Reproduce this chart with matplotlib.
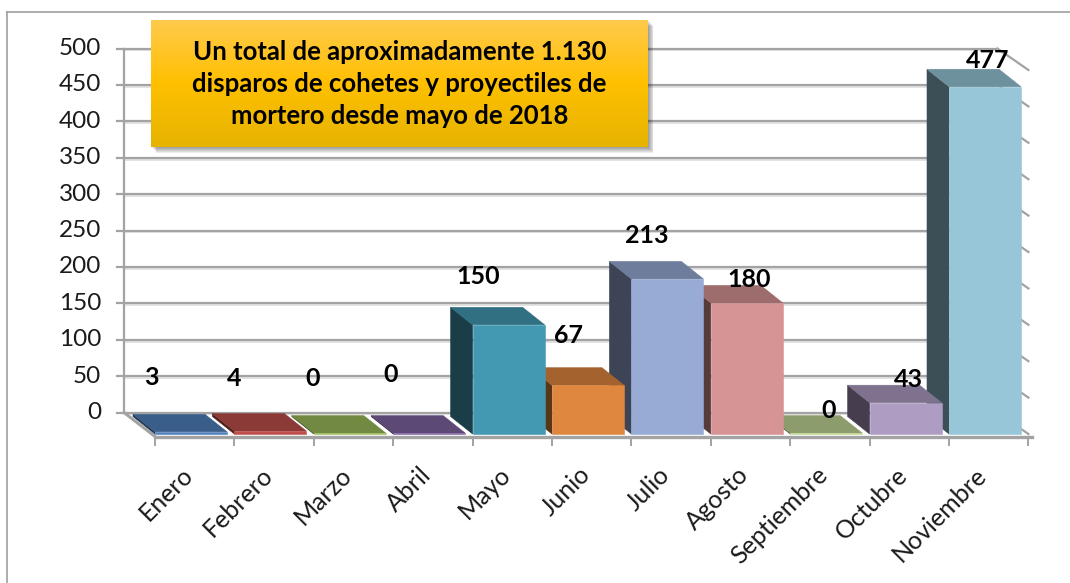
import numpy as np
import matplotlib
matplotlib.use('Agg')
import matplotlib.pyplot as plt
from matplotlib.patches import Polygon, Rectangle
from matplotlib.lines import Line2D
import matplotlib.colors as mcolors

# ---------------- data ----------------
months = ['Enero', 'Febrero', 'Marzo', 'Abril', 'Mayo', 'Junio', 'Julio',
          'Agosto', 'Septiembre', 'Octubre', 'Noviembre']
values = [3, 4, 0, 0, 150, 67, 213, 180, 0, 43, 477]
y_ticks = list(range(0, 501, 50))
title_lines = ['Un total de aproximadamente 1.130',
               'disparos de cohetes y proyectiles de',
               'mortero desde mayo de 2018']

# ---------------- style ----------------
front_colors = ['#4F81BD', '#C0504D', '#9BBB59', '#8064A2', '#4399B2', '#E0873F',
                '#97ABD5', '#D79494', '#C0D694', '#AE9CC3', '#97C6D8']
# label offsets in pixels (dx, up) from bar's front-top centre
label_offsets = [(-40, 54), (-36, 53), (-37, 56), (-39, 60), (-30, 48), (-20, 50),
                 (-21, 43), (2, 23), (2, 23), (3, 23), (3, 26)]

plt.rcParams['font.family'] = ['Lato', 'DejaVu Sans']

W, H = 1070, 583
fig = plt.figure(figsize=(W / 100, H / 100), dpi=100)
fig.patch.set_facecolor('white')
ax = fig.add_axes([0, 0, 1, 1])
ax.set_zorder(0)

PXC = 79.4    # pixels per category (front plane)
PXV = 0.728   # pixels per value unit
X0, Y0 = 155, 434
ax.set_xlim(-X0 / PXC, (W - X0) / PXC)
ax.set_ylim((Y0 - H) / PXV, Y0 / PXV)
ax.axis('off')

n = len(months)
wdx, wdv = -31 / PXC, 21.5 / PXV     # wall depth offset
bdx, bdv = -22 / PXC, 17.5 / PXV     # bar depth offset
bw = 72 / PXC                        # bar front width

grid_c = '#a3a3a3'
shadow_c = '#dedede'
glw = 1.6

# back wall gridlines + right side wall lines
for t in y_ticks:
    yb = t + wdv
    ax.plot([wdx, n + wdx], [yb - 1.8 / PXV] * 2, color=shadow_c, lw=1.2, zorder=1,
            solid_capstyle='butt')
    ax.plot([wdx, n + wdx], [yb, yb], color=grid_c, lw=glw, zorder=2,
            solid_capstyle='butt')
    ax.plot([n + wdx, n], [yb, t], color=grid_c, lw=glw, zorder=2)
    # y ticks
    ax.plot([wdx - 7 / PXC, wdx], [yb, yb], color=grid_c, lw=glw, zorder=2)
    ax.text(wdx - 23 / PXC, yb, str(t), ha='right', va='center', fontsize=17.5,
            color='#1a1a1a', zorder=3)

# y axis line
ax.plot([wdx, wdx], [wdv, y_ticks[-1] + wdv], color=grid_c, lw=glw, zorder=2)

# floor edges
fy = -2.5 / PXV
ax.plot([wdx, 0], [wdv, fy], color=grid_c, lw=2.2, zorder=2)
ax.plot([0, n + 0.05], [fy, fy], color=grid_c, lw=2.4, zorder=2)
for i in range(n + 1):
    ax.plot([i, i], [-3 / PXV, -11 / PXV], color=grid_c, lw=1.4, zorder=2)


def shade(c, f):
    r, g, b = mcolors.to_rgb(c)
    return (r * f, g * f, b * f)


# bars, right to left so that left bars overlap the side faces of right bars
for i in reversed(range(n)):
    v = max(values[i], 1.2)
    x0, x1 = i, i + bw
    fc = front_colors[i]
    z = 10
    side = Polygon([(x0, 0), (x0, v), (x0 + bdx, v + bdv), (x0 + bdx, bdv)],
                   closed=True, fc=shade(fc, 0.40), ec=shade(fc, 0.40), lw=0.4, zorder=z)
    top = Polygon([(x0, v), (x1, v), (x1 + bdx, v + bdv), (x0 + bdx, v + bdv)],
                  closed=True, fc=shade(fc, 0.73), ec=shade(fc, 0.73), lw=0.4, zorder=z)
    front = Rectangle((x0, 0), bw, v, fc=fc, ec=fc, lw=0.4, zorder=z)
    ax.add_patch(side)
    ax.add_patch(top)
    ax.add_patch(front)

# value labels
for i in range(n):
    dx, up = label_offsets[i]
    ax.annotate(str(values[i]), xy=(i + bw / 2, values[i]), xytext=(dx, up),
                textcoords='offset pixels', ha='center', va='center',
                fontsize=18, fontweight='bold', color='black', zorder=50)

# category labels
for i, m in enumerate(months):
    ax.text(i + 0.5 - 5.5 / PXC, (Y0 - 471) / PXV, m, rotation=45, ha='right',
            va='center', rotation_mode='anchor', fontsize=18, color='#1a1a1a', zorder=3)

# chart border (left + top)
fig.add_artist(Line2D([7 / W, 7 / W], [0, 1 - 12 / H], color='#a0a0a0', lw=1.2,
                      transform=fig.transFigure))
fig.add_artist(Line2D([7 / W, 1], [1 - 12 / H, 1 - 12 / H], color='#a0a0a0', lw=1.2,
                      transform=fig.transFigure))

# title box with shadow
bx0, by0, bx1, by1 = 151, 20, 648, 147
for k in range(1, 7):
    fig.add_artist(Rectangle(((bx0 + k * 0.9) / W, 1 - (by1 + k * 1.0) / H),
                             (bx1 - bx0) / W, (by1 - by0) / H,
                             transform=fig.transFigure, fc='black', ec='none',
                             alpha=0.07, zorder=3))
tax = fig.add_axes([bx0 / W, 1 - by1 / H, (bx1 - bx0) / W, (by1 - by0) / H])
tax.set_zorder(5)
top_c = np.array(mcolors.to_rgb('#FFCA4E'))
mid_c = np.array(mcolors.to_rgb('#FFC000'))
bot_c = np.array(mcolors.to_rgb('#E5B300'))
tt = np.linspace(0, 1, 200)[:, None]
grad = np.where(tt < 0.5, top_c + (mid_c - top_c) * (tt / 0.5),
                mid_c + (bot_c - mid_c) * ((tt - 0.5) / 0.5))
tax.imshow(grad[:, None, :], aspect='auto', extent=[0, 1, 0, 1], interpolation='bilinear')
tax.set_xlim(0, 1)
tax.set_ylim(0, 1)
tax.axis('off')
tax.text(0.5, 0.5, '\n'.join(title_lines), ha='center', va='center',
         fontsize=18.5, fontweight='bold', color='black', linespacing=1.4,
         transform=tax.transAxes)

fig.savefig('out.png', dpi=100, facecolor='white')
